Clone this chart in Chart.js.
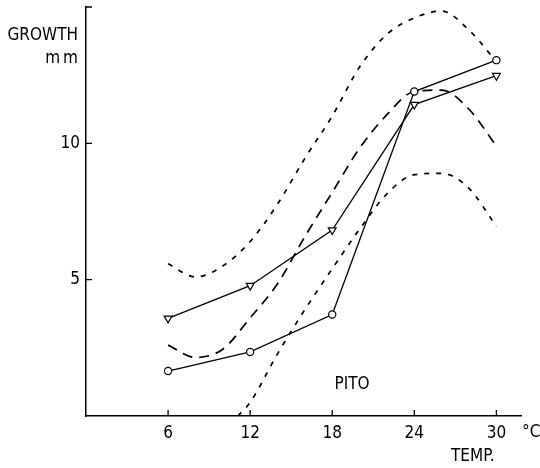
<!DOCTYPE html>
<html>
<head>
<meta charset="utf-8">
<script src="https://cdn.jsdelivr.net/npm/chart.js@4.4.1/dist/chart.umd.min.js"></script>
<style>
  html, body { margin: 0; padding: 0; background: #fff; }
  #wrap { width: 540px; height: 468px; position: relative; }
</style>
</head>
<body>
<div id="wrap"><canvas id="growthChart" width="540" height="468"></canvas></div>
<script>
// --- DATA ---
const temps = [6, 12, 18, 24, 30];
const circleGrowth = [1.65, 2.35, 3.72, 11.9, 13.05];
const triangleGrowth = [3.58, 4.78, 6.82, 11.42, 12.48];

// dashed envelope curves
const bandX = [6, 8, 10, 12, 14, 16, 18, 20, 22, 24, 26, 28, 30];
const upperBand = [5.58, 5.1, 5.5, 6.4, 7.77, 9.45, 11.0, 12.8, 14.0, 14.6, 14.85, 14.15, 13.0];
const middleBand = [2.6, 2.15, 2.45, 3.6, 4.85, 6.58, 8.2, 9.82, 11.05, 11.9, 11.95, 11.25, 9.9];
const lowerX = [11.1, 12, 14, 16, 18, 20, 22, 24, 26, 28, 30];
const lowerBand = [0, 0.5, 2.28, 3.9, 5.4, 6.85, 8.15, 8.85, 8.9, 8.35, 6.95];

const xTicks = [6, 12, 18, 24, 30];
const yTicks = [5, 10];
const yTickMarks = [5, 10, 15];

const FONT = '"Liberation Sans Narrow", "DejaVu Sans Condensed", sans-serif';

function pts(xs, ys) {
    return xs.map((v, i) => ({ x: v, y: ys[i] }));
}

// tick marks inward + free text labels
const decorPlugin = {
    id: 'decor',
    afterDraw(chart) {
        const ctx = chart.ctx;
        const x = chart.scales.x, y = chart.scales.y;
        ctx.save();
        ctx.strokeStyle = '#000';
        ctx.lineWidth = 1.3;
        ctx.beginPath();
        xTicks.forEach(v => {
            const px = x.getPixelForValue(v);
            ctx.moveTo(px, y.bottom);
            ctx.lineTo(px, y.bottom - 6);
        });
        yTickMarks.forEach(v => {
            const py = y.getPixelForValue(v);
            ctx.moveTo(x.left, py);
            ctx.lineTo(x.left + 6, py);
        });
        ctx.stroke();

        ctx.fillStyle = '#000';
        ctx.font = '17px ' + FONT;
        ctx.textBaseline = 'middle';
        ctx.textAlign = 'right';
        ctx.fillText('GROWTH', 78, 36);
        ctx.letterSpacing = '3px';
        ctx.fillText('mm', 81, 59);
        ctx.letterSpacing = '0px';
        ctx.textAlign = 'left';
        ctx.fillText('°C', x.right + 1, 433);
        ctx.fillText('TEMP.', 451, 457);
        ctx.textAlign = 'center';
        ctx.fillText('PITO', x.getPixelForValue(19.45), y.getPixelForValue(1.15));
        ctx.restore();
    }
};

const markerStyle = {
    borderColor: '#000',
    borderWidth: 1.3,
    pointBackgroundColor: '#fff',
    pointBorderColor: '#000',
    pointBorderWidth: 1.2,
    showLine: true,
    tension: 0
};

const bandStyle = {
    borderColor: '#000',
    borderWidth: 1.7,
    pointRadius: 0,
    showLine: true,
    cubicInterpolationMode: 'monotone'
};

function noPad(s) {
    s.paddingTop = 0;
    s.paddingBottom = 0;
    s.paddingLeft = 0;
    s.paddingRight = 0;
}

const ctx = document.getElementById('growthChart').getContext('2d');
const growthChart = new Chart(ctx, {
    type: 'scatter',
    data: {
        datasets: [
            Object.assign({ label: 'circle', data: pts(temps, circleGrowth), pointStyle: 'circle', pointRadius: 3.6 }, markerStyle),
            Object.assign({ label: 'triangle', data: pts(temps, triangleGrowth), pointStyle: 'triangle', pointRotation: 180, pointRadius: 4.5 }, markerStyle),
            Object.assign({ label: 'upper', data: pts(bandX, upperBand), borderDash: [5, 7] }, bandStyle),
            Object.assign({ label: 'middle', data: pts(bandX, middleBand), borderDash: [10, 7] }, bandStyle),
            Object.assign({ label: 'lower', data: pts(lowerX, lowerBand), borderDash: [5, 7] }, bandStyle)
        ]
    },
    options: {
        responsive: false,
        animation: false,
        events: [],
        layout: { padding: { top: 7, right: 19, left: 0, bottom: 0 } },
        plugins: { legend: { display: false }, tooltip: { enabled: false } },
        scales: {
            x: {
                type: 'linear',
                min: 0,
                max: 31.8,
                afterBuildTicks: s => { s.ticks = xTicks.map(v => ({ value: v })); },
                afterFit: s => { s.height = 52; noPad(s); },
                grid: { display: false, drawTicks: false },
                border: { display: true, color: '#000', width: 1.5 },
                ticks: { color: '#000', font: { family: FONT, size: 17 }, padding: 7, maxRotation: 0 }
            },
            y: {
                type: 'linear',
                min: 0,
                max: 15,
                afterBuildTicks: s => { s.ticks = yTicks.map(v => ({ value: v })); },
                afterFit: s => { s.width = 86; noPad(s); },
                grid: { display: false, drawTicks: false },
                border: { display: true, color: '#000', width: 1.5 },
                ticks: { color: '#000', font: { family: FONT, size: 17 }, padding: 6 }
            }
        }
    },
    plugins: [decorPlugin]
});
</script>
</body>
</html>
